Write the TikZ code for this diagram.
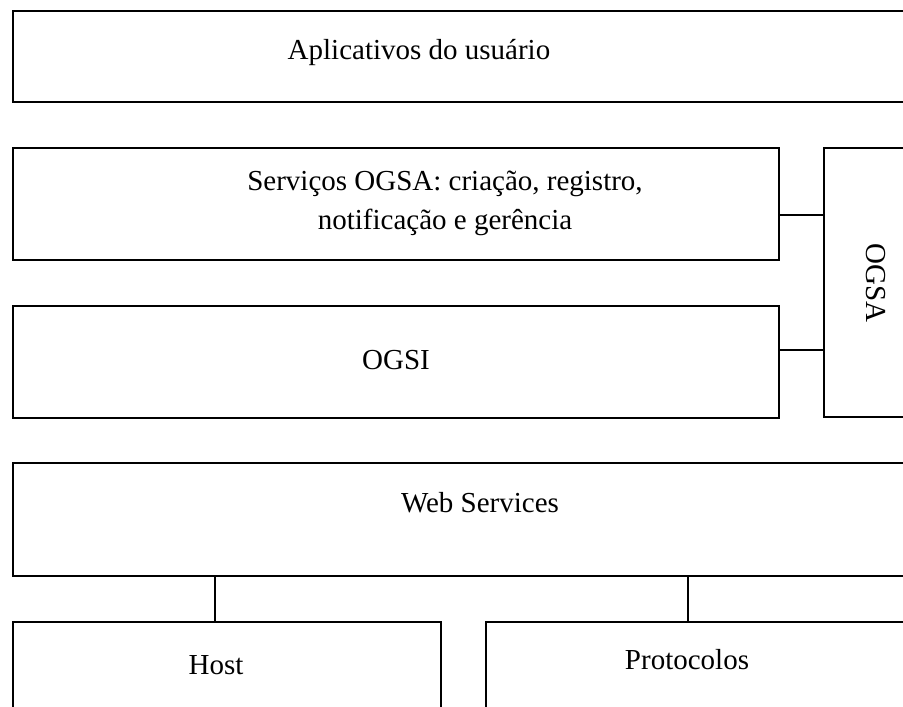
\documentclass[tikz,border=0pt]{standalone}
\usepackage{fontspec}
\setmainfont{Liberation Serif}
\begin{document}
\begin{tikzpicture}[x=1pt,y=-1pt,
  box/.style={draw=black, line width=1.8pt, fill=none, inner sep=0pt, anchor=north west},
  lbl/.style={font=\fontsize{29}{39}\selectfont, inner sep=0pt, align=center},
  link/.style={draw=black, line width=1.4pt}]
  \useasboundingbox (0,0) rectangle (903,707);
  \fill[white] (0,0) rectangle (903,707);
  \clip (0,0) rectangle (903,707);
  % layer boxes (the wide ones run past the right edge)
  \node[box, minimum width=910pt, minimum height=91pt] (app) at (12,10) {};
  \node[box, minimum width=766pt, minimum height=112pt] (svc) at (12,147) {};
  \node[box, minimum width=766pt, minimum height=112pt] (ogsi) at (12,305) {};
  \node[box, minimum width=100pt, minimum height=269pt] (ogsa) at (823,147) {};
  \node[box, minimum width=910pt, minimum height=113pt] (web) at (12,462) {};
  \node[box, minimum width=428pt, minimum height=100pt] (host) at (12,621) {};
  \node[box, minimum width=430pt, minimum height=100pt] (prot) at (485,621) {};
  % texts
  \node[lbl] (tapp) at (419,53) {Aplicativos do usuário};
  \node[lbl] (tsvc) at (445,203) {Serviços OGSA: criação, registro,\\notificação e gerência};
  \node[lbl] (togsi) at (396,360) {OGSI};
  \node[lbl, rotate=-90] (togsa) at (876,283) {OGSA};
  \node[lbl] (tweb) at (480,503) {Web Services};
  \node[lbl] (thost) at (216,665) {Host};
  \node[lbl] (tprot) at (687,660) {Protocolos};
  % connectors
  \draw[link] (svc.east |- 0,215) -- (ogsa.west |- 0,215);
  \draw[link] (ogsi.east |- 0,350) -- (ogsa.west |- 0,350);
  \draw[link] (web.south west -| 215,0) -- (host.north west -| 215,0);
  \draw[link] (web.south west -| 688,0) -- (prot.north west -| 688,0);
\end{tikzpicture}
\end{document}
